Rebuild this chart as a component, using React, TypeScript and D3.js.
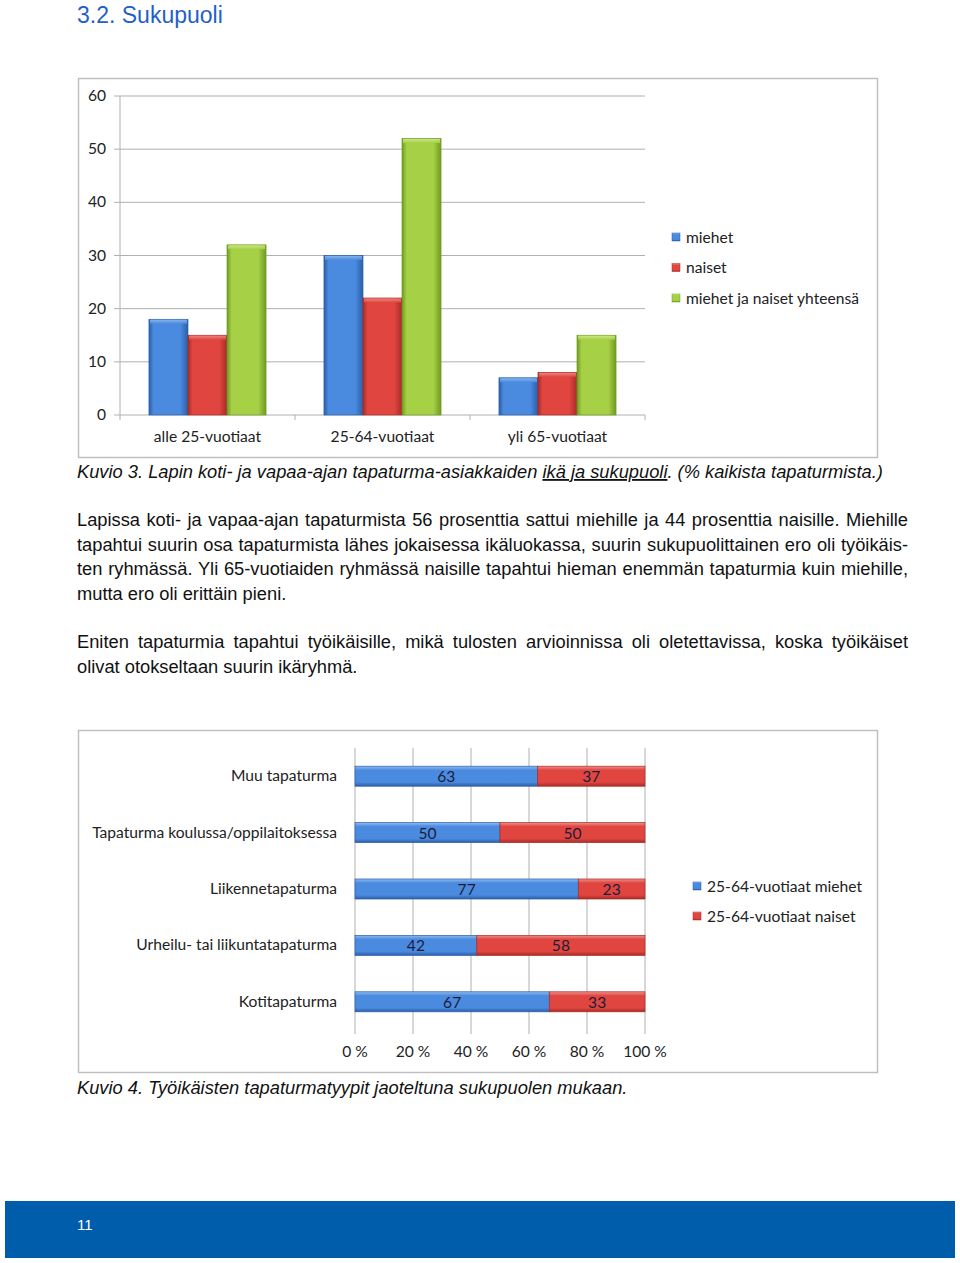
import { useEffect, useRef } from "react";
import * as d3 from "d3";

// chart 1: age groups by gender (% of all accidents)
const ageGroups = ["alle 25-vuotiaat", "25-64-vuotiaat", "yli 65-vuotiaat"];
const menValues = [18, 30, 7];
const womenValues = [15, 22, 8];
const totalValues = [32, 52, 15];
const seriesNames = ["miehet", "naiset", "miehet ja naiset yhteensä"];
const yTicks = [0, 10, 20, 30, 40, 50, 60];

// chart 2: accident types of working age, split by gender
const accidentTypes = [
  "Muu tapaturma",
  "Tapaturma koulussa/oppilaitoksessa",
  "Liikennetapaturma",
  "Urheilu- tai liikuntatapaturma",
  "Kotitapaturma",
];
const workMen = [63, 50, 77, 42, 67];
const workWomen = [37, 50, 23, 58, 33];
const workSeries = ["25-64-vuotiaat miehet", "25-64-vuotiaat naiset"];
const pctTicks = [0, 20, 40, 60, 80, 100];

const para1 = [
  "Lapissa koti- ja vapaa-ajan tapaturmista 56 prosenttia sattui miehille ja 44 prosenttia naisille. Miehille",
  "tapahtui suurin osa tapaturmista lähes jokaisessa ikäluokassa, suurin sukupuolittainen ero oli työikäis-",
  "ten ryhmässä. Yli 65-vuotiaiden ryhmässä naisille tapahtui hieman enemmän tapaturmia kuin miehille,",
  "mutta ero oli erittäin pieni.",
];
const para2 = [
  "Eniten tapaturmia tapahtui työikäisille, mikä tulosten arvioinnissa oli oletettavissa, koska työikäiset",
  "olivat otokseltaan suurin ikäryhmä.",
];

const COLORS = [
  { id: "blue", mid: "#4a8be0", edge: "#2b5ea8", top: "#8fbaf0" },
  { id: "red", mid: "#e0463f", edge: "#a82b27", top: "#f08e88" },
  { id: "green", mid: "#a6d045", edge: "#6f9a22", top: "#d0ec8c" },
];

const CHART_FONT = "Lato, 'Open Sans', sans-serif";
const BODY_FONT = "'Liberation Sans', Arial, sans-serif";
const CF = 15.6;
const BF = 18.3;
const GRID = "#b0b0b0";
const TEXT_W = 831;

function Bar({ x, y, w, h, c }: { x: number; y: number; w: number; h: number; c: number }) {
  const col = COLORS[c];
  return (
    <g>
      <rect x={x} y={y} width={w} height={h} fill={`url(#g-${col.id})`} stroke={col.edge} strokeWidth={0.7} />
      <rect x={x + 1} y={y + 0.5} width={Math.max(0, w - 2)} height={Math.min(4, h)} fill={`url(#t-${col.id})`} opacity={0.85} />
    </g>
  );
}

function HBar({ x, y, w, h, c }: { x: number; y: number; w: number; h: number; c: number }) {
  const col = COLORS[c];
  return <rect x={x} y={y} width={w} height={h} fill={`url(#v-${col.id})`} stroke={col.edge} strokeWidth={0.7} />;
}

function Swatch({ x, y, c }: { x: number; y: number; c: number }) {
  const col = COLORS[c];
  return <rect x={x} y={y} width={8} height={8} fill={`url(#v-${col.id})`} stroke={col.edge} strokeWidth={0.5} />;
}

export default function App() {
  const justifyRef = useRef<SVGGElement>(null);

  useEffect(() => {
    if (!justifyRef.current) return;
    d3.select(justifyRef.current)
      .selectAll<SVGTextElement, unknown>("text.justify")
      .each(function () {
        const len = this.getComputedTextLength();
        const spaces = (this.textContent || "").split(" ").length - 1;
        if (spaces > 0) d3.select(this).attr("word-spacing", (TEXT_W - len) / spaces);
      });
  }, []);

  // chart 1 scales
  const x0 = d3.scaleBand<string>().domain(ageGroups).range([120, 645]).paddingInner(0.331).paddingOuter(0.1655);
  const x1 = d3.scaleBand<number>().domain([0, 1, 2]).range([0, x0.bandwidth()]);
  const y = d3.scaleLinear().domain([0, 60]).range([415, 96]);
  const groups = [menValues, womenValues, totalValues];

  // chart 2 scales
  const xp = d3.scaleLinear().domain([0, 100]).range([355, 645]);
  const yb = d3.scaleBand<string>().domain(accidentTypes).range([748, 1030]).paddingInner(0.645).paddingOuter(0.3225);
  const catEdges = [...ageGroups.map((g) => x0(g)! - (x0.step() - x0.bandwidth()) / 2), 645];

  return (
    <div style={{ position: "absolute", left: 0, top: 0 }}>
      <svg width={960} height={1263} style={{ display: "block", background: "#fff" }}>
        <defs>
          {COLORS.map((col) => (
            <g key={col.id}>
              <linearGradient id={`g-${col.id}`} x1="0" x2="1" y1="0" y2="0">
                <stop offset="0" stopColor={col.edge} />
                <stop offset="0.12" stopColor={col.mid} />
                <stop offset="0.8" stopColor={col.mid} />
                <stop offset="1" stopColor={col.edge} />
              </linearGradient>
              <linearGradient id={`v-${col.id}`} x1="0" x2="0" y1="0" y2="1">
                <stop offset="0" stopColor={col.top} />
                <stop offset="0.2" stopColor={col.mid} />
                <stop offset="0.8" stopColor={col.mid} />
                <stop offset="1" stopColor={col.edge} />
              </linearGradient>
              <linearGradient id={`t-${col.id}`} x1="0" x2="0" y1="0" y2="1">
                <stop offset="0" stopColor={col.top} />
                <stop offset="1" stopColor={col.mid} />
              </linearGradient>
            </g>
          ))}
        </defs>

        <text x={77} y={23} fontFamily={BODY_FONT} fontSize={23} fill="#1f5fc9">
          3.2. Sukupuoli
        </text>

        {/* chart 1 */}
        <rect x={78.5} y={78.5} width={799} height={379} fill="#fff" stroke="#c0c0c0" strokeWidth={1.5} />
        {yTicks.map((t) => (
          <g key={t}>
            <line x1={114} x2={645} y1={y(t)} y2={y(t)} stroke={GRID} strokeWidth={1} />
            <text x={106} y={y(t) + 5} textAnchor="end" fontFamily={CHART_FONT} fontSize={CF} fill="#222">
              {t}
            </text>
          </g>
        ))}
        <line x1={120} x2={120} y1={96} y2={415} stroke={GRID} />
        {catEdges.map((e, i) => (
          <line key={i} x1={e} x2={e} y1={415} y2={420} stroke={GRID} />
        ))}
        {ageGroups.map((g, gi) => (
          <g key={g}>
            {groups.map((vals, si) => (
              <Bar key={si} x={x0(g)! + x1(si)!} y={y(vals[gi])} w={x1.bandwidth()} h={y(0) - y(vals[gi])} c={si} />
            ))}
            <text x={x0(g)! + x0.bandwidth() / 2} y={442} textAnchor="middle" fontFamily={CHART_FONT} fontSize={CF} fill="#222">
              {g}
            </text>
          </g>
        ))}
        {seriesNames.map((s, i) => (
          <g key={s}>
            <Swatch x={672} y={233 + i * 30.5} c={i} />
            <text x={686} y={242.5 + i * 30.5} fontFamily={CHART_FONT} fontSize={CF} fill="#222">
              {s}
            </text>
          </g>
        ))}

        <text x={77} y={478} fontFamily={BODY_FONT} fontSize={BF} fontStyle="italic" fill="#111">
          Kuvio 3. Lapin koti- ja vapaa-ajan tapaturma-asiakkaiden{" "}
          <tspan textDecoration="underline">ikä ja sukupuoli</tspan>. (% kaikista tapaturmista.)
        </text>

        <g ref={justifyRef} fontFamily={BODY_FONT} fontSize={BF} fill="#111">
          {para1.map((l, i) => (
            <text key={l} className={i < para1.length - 1 ? "justify" : ""} x={77} y={526 + i * 24.5}>
              {l}
            </text>
          ))}
          {para2.map((l, i) => (
            <text key={l} className={i < para2.length - 1 ? "justify" : ""} x={77} y={648 + i * 24.5}>
              {l}
            </text>
          ))}
        </g>

        {/* chart 2 */}
        <rect x={78.5} y={730.5} width={799} height={342} fill="#fff" stroke="#c0c0c0" strokeWidth={1.5} />
        {pctTicks.map((t) => (
          <g key={t}>
            <line x1={xp(t)} x2={xp(t)} y1={748} y2={1034} stroke={GRID} />
            <text x={xp(t)} y={1057} textAnchor="middle" fontFamily={CHART_FONT} fontSize={CF} fill="#222">
              {t} %
            </text>
          </g>
        ))}
        {accidentTypes.map((a, i) => {
          const by = yb(a)!;
          const bh = yb.bandwidth();
          return (
            <g key={a}>
              <HBar x={xp(0)} y={by} w={xp(workMen[i]) - xp(0)} h={bh} c={0} />
              <HBar x={xp(workMen[i])} y={by} w={xp(workMen[i] + workWomen[i]) - xp(workMen[i])} h={bh} c={1} />
              <text x={(xp(0) + xp(workMen[i])) / 2} y={by + bh / 2 + 6} textAnchor="middle" fontFamily={CHART_FONT} fontSize={CF} fill="#1c1c3a">
                {workMen[i]}
              </text>
              <text x={(xp(workMen[i]) + xp(100)) / 2} y={by + bh / 2 + 6} textAnchor="middle" fontFamily={CHART_FONT} fontSize={CF} fill="#1c1c3a">
                {workWomen[i]}
              </text>
              <text x={337} y={by + bh / 2 + 5} textAnchor="end" fontFamily={CHART_FONT} fontSize={CF} fill="#222">
                {a}
              </text>
            </g>
          );
        })}
        {workSeries.map((s, i) => (
          <g key={s}>
            <Swatch x={693} y={882 + i * 30} c={i} />
            <text x={707} y={891.5 + i * 30} fontFamily={CHART_FONT} fontSize={CF} fill="#222">
              {s}
            </text>
          </g>
        ))}

        <text x={77} y={1094} fontFamily={BODY_FONT} fontSize={BF} fontStyle="italic" fill="#111">
          Kuvio 4. Työikäisten tapaturmatyypit jaoteltuna sukupuolen mukaan.
        </text>

        {/* footer */}
        <rect x={5} y={1201} width={950} height={57} fill="#005dab" />
        <text x={77} y={1230} fontFamily={BODY_FONT} fontSize={15} fill="#fff">
          11
        </text>
      </svg>
    </div>
  );
}
